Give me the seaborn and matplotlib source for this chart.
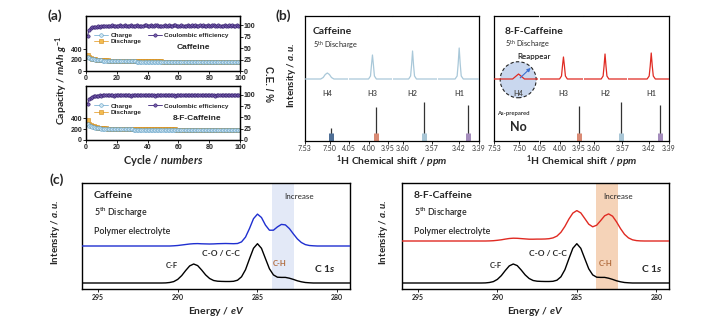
import numpy as np
import matplotlib
matplotlib.use('Agg')
import matplotlib.pyplot as plt
import seaborn as sns
from matplotlib.lines import Line2D
from matplotlib.patches import Ellipse

sns.set_theme(style='ticks')
plt.rcParams['font.family'] = ['Lato', 'DejaVu Sans']
plt.rcParams['mathtext.fontset'] = 'custom'
plt.rcParams['mathtext.rm'] = 'Lato:bold'
plt.rcParams['mathtext.it'] = 'Lato:italic:bold'
plt.rcParams['mathtext.bf'] = 'Lato:bold'

# ---------------- (a) cycling data ----------------
cycles = list(range(1, 101))
caf_charge = [246, 232, 223, 216, 210, 205, 201, 198, 195, 192,
              190, 188, 186, 185, 184, 183, 182, 181, 180, 179,
              179, 178, 178, 177, 176, 176, 175, 175, 174, 174,
              173, 173, 172, 172, 172, 171, 171, 170, 170, 170,
              169, 169, 169, 168, 168, 168, 167, 167, 167, 166,
              166, 166, 166, 165, 165, 165, 165, 164, 164, 164,
              164, 163, 163, 163, 163, 162, 162, 162, 162, 162,
              161, 161, 161, 161, 161, 160, 160, 160, 160, 160,
              160, 159, 159, 159, 159, 159, 158, 158, 158, 158,
              158, 158, 157, 157, 157, 157, 157, 157, 156, 156]
caf_discharge = [288, 252, 236, 226, 219, 213, 208, 204, 201, 198,
                 196, 194, 192, 191, 190, 189, 188, 187, 186, 185,
                 185, 184, 184, 183, 182, 182, 181, 181, 180, 180,
                 179, 179, 178, 178, 178, 177, 177, 176, 176, 176,
                 175, 175, 175, 174, 174, 174, 173, 173, 173, 172,
                 172, 172, 172, 171, 171, 171, 171, 170, 170, 170,
                 170, 169, 169, 169, 169, 168, 168, 168, 168, 168,
                 167, 167, 167, 167, 167, 166, 166, 166, 166, 166,
                 166, 165, 165, 165, 165, 165, 164, 164, 164, 164,
                 164, 164, 163, 163, 163, 163, 163, 163, 162, 162]
caf_ce = [76, 90, 94, 95, 96, 97, 97, 98, 97, 98,
          99, 98, 99, 99, 98, 99, 100, 99, 99, 98,
          99, 100, 99, 99, 100, 99, 98, 99, 100, 99,
          99, 99, 100, 99, 99, 98, 99, 100, 100, 99,
          99, 100, 99, 99, 100, 100, 99, 99, 98, 99,
          100, 99, 99, 100, 99, 99, 100, 100, 99, 99,
          99, 100, 99, 98, 99, 100, 99, 99, 100, 99,
          100, 99, 99, 100, 99, 100, 99, 99, 100, 99,
          99, 100, 100, 99, 99, 100, 99, 98, 99, 100,
          99, 99, 100, 99, 100, 99, 99, 100, 99, 99]
fcaf_charge = [296, 268, 254, 244, 236, 229, 224, 219, 215, 212,
               210, 208, 206, 205, 204, 203, 202, 201, 200, 199,
               199, 198, 198, 197, 197, 196, 196, 195, 195, 195,
               194, 194, 194, 193, 193, 193, 192, 192, 192, 192,
               191, 191, 191, 191, 190, 190, 190, 190, 189, 189,
               189, 189, 189, 188, 188, 188, 188, 188, 187, 187,
               187, 187, 187, 186, 186, 186, 186, 186, 186, 185,
               185, 185, 185, 185, 185, 184, 184, 184, 184, 184,
               184, 184, 183, 183, 183, 183, 183, 183, 183, 182,
               182, 182, 182, 182, 182, 182, 181, 181, 181, 181]
fcaf_discharge = [372, 302, 276, 261, 250, 242, 236, 230, 225, 221,
                  218, 216, 214, 212, 211, 210, 209, 208, 207, 206,
                  206, 205, 205, 204, 204, 203, 203, 202, 202, 202,
                  201, 201, 201, 200, 200, 200, 199, 199, 199, 199,
                  198, 198, 198, 198, 197, 197, 197, 197, 196, 196,
                  196, 196, 196, 195, 195, 195, 195, 195, 194, 194,
                  194, 194, 194, 193, 193, 193, 193, 193, 193, 192,
                  192, 192, 192, 192, 192, 191, 191, 191, 191, 191,
                  191, 191, 190, 190, 190, 190, 190, 190, 190, 189,
                  189, 189, 189, 189, 189, 189, 188, 188, 188, 188]
fcaf_ce = [80, 91, 94, 96, 97, 97, 98, 98, 99, 98,
           99, 99, 100, 99, 99, 100, 99, 98, 99, 100,
           100, 99, 99, 100, 99, 99, 100, 99, 98, 99,
           100, 99, 100, 99, 99, 100, 99, 99, 100, 100,
           99, 99, 100, 99, 98, 99, 100, 99, 99, 100,
           99, 100, 99, 99, 100, 99, 99, 98, 99, 100,
           100, 99, 99, 100, 99, 100, 99, 99, 100, 99,
           99, 100, 99, 99, 100, 99, 100, 99, 99, 100,
           100, 99, 99, 98, 99, 100, 99, 100, 99, 99,
           99, 100, 99, 100, 99, 99, 100, 99, 99, 100]
cap_ticks = [0, 200, 400]
ce_ticks = [0, 25, 50, 75, 100]
cycle_ticks = [0, 20, 40, 60, 80, 100]

# ---------------- (b) 1H NMR data ----------------
seg_limits = [(7.53, 7.478), (4.05, 3.94), (3.61, 3.565), (3.45, 3.39)]
seg_ticks = [[7.53, 7.50], [4.05, 4.00, 3.95], [3.60, 3.57], [3.42, 3.39]]
peak_names = ['H4', 'H3', 'H2', 'H1']

caf_seg1_x = [7.530, 7.511, 7.508, 7.5055, 7.503, 7.5005, 7.498, 7.495, 7.478]
caf_seg1_y = [62, 62, 63.5, 66.5, 68, 66.5, 63.5, 62, 62]
caf_seg2_x = [4.050, 4.000, 3.995, 3.9925, 3.990, 3.9875, 3.985, 3.980, 3.940]
caf_seg2_y = [62, 62, 65, 76, 86, 76, 65, 62, 62]
caf_seg3_x = [3.610, 3.594, 3.592, 3.591, 3.590, 3.589, 3.588, 3.586, 3.565]
caf_seg3_y = [62, 62, 65, 76, 90, 76, 65, 62, 62]
caf_seg4_x = [3.450, 3.425, 3.422, 3.4205, 3.419, 3.4175, 3.416, 3.413, 3.390]
caf_seg4_y = [62, 62, 65, 77, 93, 77, 65, 62, 62]

fcaf_seg1_x = [7.530, 7.508, 7.501, 7.494, 7.478]
fcaf_seg1_y = [62, 62, 67, 62, 62]
fcaf_seg2_x = [4.050, 4.000, 3.995, 3.9925, 3.990, 3.9875, 3.985, 3.980, 3.940]
fcaf_seg2_y = [62, 62, 65, 75, 84, 75, 65, 62, 62]
fcaf_seg3_x = [3.610, 3.592, 3.590, 3.589, 3.588, 3.587, 3.586, 3.584, 3.565]
fcaf_seg3_y = [62, 62, 65, 75, 87, 75, 65, 62, 62]
fcaf_seg4_x = [3.450, 3.422, 3.419, 3.4175, 3.416, 3.4145, 3.413, 3.410, 3.390]
fcaf_seg4_y = [62, 62, 65, 75, 88, 75, 65, 62, 62]

caf_peak_pos = [7.503, 3.990, 3.590, 3.419]
fcaf_peak_pos = [7.501, 3.990, 3.588, 3.416]
caf_stick_pos = [7.499, 3.980, 3.578, 3.406]
caf_stick_h = [13, 34, 39, 36]
fcaf_stick_pos = [None, 3.950, 3.571, 3.403]
fcaf_stick_h = [0, 35, 39, 36]
stick_colors = ['#4f6f96', '#d98a74', '#a9c6d6', '#a48cbc']

# ---------------- (c) XPS C 1s data ----------------
energy = np.linspace(296.0, 279.0, 69)
xps_reference = [6.0] * 21 + [6.1, 6.5, 7.4, 9.6, 13.4, 18.5, 23.1, 25.0, 23.4, 19.0,
                              14.1, 10.5, 8.5, 7.8, 7.6, 7.5, 7.5, 7.7, 8.8, 12.2,
                              19.3, 30.2, 40.7, 45.3, 40.7, 30.4, 20.2, 14.1, 11.8, 11.6,
                              11.6, 10.8, 9.6, 8.2, 7.2, 6.5, 6.2, 6.0] + [6.0] * 10
xps_caf_discharge = [43.0] * 23 + [43.2, 43.5, 44.0, 44.5, 45.0, 45.3, 45.4, 45.2, 45.1, 45.0,
                                   45.1, 45.3, 45.4, 45.5, 45.4, 45.3, 45.5, 47.1, 51.9, 60.5,
                                   70.3, 74.9, 71.5, 63.9, 58.8, 58.8, 62.1, 64.6, 64.1, 60.4,
                                   55.1, 50.1, 46.5, 44.4, 43.5, 43.2] + [43.0] * 10
xps_fcaf_discharge = [48.0] * 22 + [48.1, 48.3, 48.7, 49.2, 49.9, 50.5, 50.8, 50.7, 50.4, 50.1,
                                    49.8, 49.8, 49.9, 49.9, 50.0, 50.3, 51.1, 52.9, 56.7, 62.6,
                                    69.9, 75.9, 78.4, 76.1, 70.5, 64.8, 62.2, 63.8, 68.4, 73.2,
                                    75.1, 72.8, 67.1, 60.4, 54.7, 51.1, 49.2, 48.4, 48.1] + [48.0] * 8
xps_ticks = [295, 290, 285, 280]
caf_band = (284.1, 282.7)
fcaf_band = (283.8, 282.4)

# ---------------- figure ----------------
W, H = 704, 328
fig = plt.figure(figsize=(W / 100, H / 100), dpi=100)
ARIAL = 'Liberation Sans'


def rect(l, t, r, b):
    return [l / W, 1 - b / H, (r - l) / W, (b - t) / H]


def ftxt(x, y, s, **kw):
    kw.setdefault('ha', 'center')
    kw.setdefault('va', 'center')
    fig.text(x / W, 1 - y / H, s, **kw)


def spines(ax, lw=0.9):
    for sp in ax.spines.values():
        sp.set_linewidth(lw)
        sp.set_color('black')


# ---------- (a) ----------
CH_KW = dict(color='#7fb3d5', lw=0.6, marker='o', markersize=2.6,
             markerfacecolor='#cfe6f2', markeredgecolor='#5f9fc5', markeredgewidth=0.4)
DC_KW = dict(color='#e8a53a', lw=0.6, marker='s', markersize=2.2,
             markerfacecolor='#f4bc4f', markeredgecolor='#cf8a1e', markeredgewidth=0.4)
CE_KW = dict(color='#3a1f78', lw=0.6, marker='o', markersize=2.4,
             markerfacecolor='#7a62b0', markeredgecolor='#2c1566', markeredgewidth=0.4)


def cycle_panel(box, charge, discharge, ce, name, name_xy, leg_y):
    ax = fig.add_axes(rect(*box))
    ax2 = ax.twinx()
    sns.lineplot(x=cycles, y=discharge, ax=ax, **DC_KW)
    sns.lineplot(x=cycles, y=charge, ax=ax, **CH_KW)
    sns.lineplot(x=cycles, y=ce, ax=ax2, **CE_KW)
    ax.set_xlim(0, 100)
    ax.set_ylim(0, 1000)
    ax2.set_ylim(0, 120)
    tkw = dict(fontfamily=ARIAL, fontweight='bold', fontsize=5)
    ax.set_xticks(cycle_ticks)
    ax.set_xticklabels([str(t) for t in cycle_ticks], **tkw)
    ax.set_yticks(cap_ticks)
    ax.set_yticklabels([str(t) for t in cap_ticks], **tkw)
    ax2.set_yticks(ce_ticks)
    ax2.set_yticklabels([str(t) for t in ce_ticks], **tkw)
    for a in (ax, ax2):
        a.set_xlabel('')
        a.set_ylabel('')
        a.tick_params(length=2, width=0.7, pad=0.8)
    spines(ax)
    spines(ax2)
    handles = [Line2D([], [], **CH_KW), Line2D([], [], **DC_KW), Line2D([], [], **CE_KW)]
    ax2.legend(handles, ['Charge', 'Discharge', 'Coulombic efficiency'], ncol=2,
               loc='upper left', bbox_to_anchor=(0.03, leg_y), frameon=False,
               prop=dict(family=ARIAL, weight='bold', size=4.6), handlelength=2.2,
               columnspacing=1.0, labelspacing=0.1, handletextpad=0.4, borderpad=0)
    ax2.text(name_xy[0], name_xy[1], name, transform=ax2.transAxes, ha='center', va='center',
             fontfamily=ARIAL, fontweight='bold', fontsize=6)
    return ax


cycle_panel((86, 16, 240, 71), caf_charge, caf_discharge, caf_ce, 'Caffeine', (0.70, 0.43), 0.76)
cycle_panel((86, 86, 240, 140), fcaf_charge, fcaf_discharge, fcaf_ce, '8-F-Caffeine', (0.72, 0.39), 0.74)

ftxt(55, 16, '(a)', fontsize=10, fontweight='bold')
ftxt(62, 80, 'Capacity / $\\mathit{mAh\\ g^{-1}}$', rotation=90, fontsize=7.5, fontweight='bold')
ftxt(268, 84, 'C.E. / %', rotation=270, fontsize=7, fontweight='bold', fontfamily=ARIAL)
ftxt(163, 160, 'Cycle / $\\mathit{numbers}$', fontsize=8, fontweight='bold')

# ---------- (b) ----------
caf_spec = [(caf_seg1_x, caf_seg1_y), (caf_seg2_x, caf_seg2_y),
            (caf_seg3_x, caf_seg3_y), (caf_seg4_x, caf_seg4_y)]
fcaf_spec = [(fcaf_seg1_x, fcaf_seg1_y), (fcaf_seg2_x, fcaf_seg2_y),
             (fcaf_seg3_x, fcaf_seg3_y), (fcaf_seg4_x, fcaf_seg4_y)]


def nmr_panel(edges, spec, line_color, peak_pos, stick_pos, stick_h):
    axes = []
    for k, (l, r) in enumerate(edges):
        ax = fig.add_axes(rect(l, 16, r, 141))
        sx, sy = spec[k]
        sns.lineplot(x=sx, y=sy, ax=ax, color=line_color, lw=0.9, sort=False,
                     estimator=None, zorder=3)
        if stick_pos[k] is not None:
            ax.vlines(stick_pos[k], 0, stick_h[k], color='#333333', lw=0.9, zorder=2)
            ax.vlines(stick_pos[k], 0, 8, color=stick_colors[k], lw=3.6, zorder=2)
        ax.text(peak_pos[k], 48, peak_names[k], ha='center', va='center', fontsize=5.3,
                fontweight='bold', color='#555555', zorder=4)
        ax.set_xlim(*seg_limits[k])
        ax.set_ylim(0, 125)
        ax.set_xticks(seg_ticks[k])
        ax.set_xticklabels(['%.2f' % t for t in seg_ticks[k]], fontsize=5, color='#333333')
        ax.set_yticks([])
        ax.set_xlabel('')
        ax.set_ylabel('')
        ax.tick_params(axis='x', length=2, width=0.7, pad=1)
        spines(ax)
        ax.spines['left'].set_visible(k == 0)
        ax.spines['right'].set_visible(k == len(edges) - 1)
        axes.append(ax)
    return axes


caf_axes = nmr_panel([(305, 348), (349, 392), (393, 437), (438, 479)], caf_spec, '#a9c8d9',
                     caf_peak_pos, caf_stick_pos, caf_stick_h)
fcaf_axes = nmr_panel([(494, 538), (540, 583), (584, 627), (628, 669)], fcaf_spec, '#e02a22',
                      fcaf_peak_pos, fcaf_stick_pos, fcaf_stick_h)

# reappear circle
a1 = fcaf_axes[0]
a1.add_patch(Ellipse((0.55, 0.49), 36 / 44, 36 / 125, transform=a1.transAxes,
                     facecolor='#c9d7ee', edgecolor='#222222', ls=(0, (3, 2)), lw=0.8,
                     clip_on=False, zorder=1))
a1.annotate('', xy=(0.88, 0.60), xytext=(0.55, 0.49), xycoords='axes fraction',
            textcoords='axes fraction', annotation_clip=False,
            arrowprops=dict(arrowstyle='-|>', color='#3b6fd0', lw=0.8, mutation_scale=5),
            zorder=5)

ftxt(283, 16, '(b)', fontsize=10, fontweight='bold')
ftxt(292, 75, 'Intensity / $\\mathit{a.u.}$', rotation=90, fontsize=7, fontweight='bold')
ftxt(313, 32, 'Caffeine', ha='left', fontsize=7.5, fontweight='bold')
ftxt(313, 45, '5$^{\\mathregular{th}}$ Discharge', ha='left', fontsize=5.3)
ftxt(505, 32, '8-F-Caffeine', ha='left', fontsize=7.5, fontweight='bold')
ftxt(505, 44, '5$^{\\mathregular{th}}$ Discharge', ha='left', fontsize=5.3)
ftxt(534, 57, 'Reappear', fontsize=5.8, fontweight='semibold')
ftxt(497, 113, 'As-prepared', ha='left', fontsize=4.2, fontweight='semibold')
ftxt(510, 127, 'No', ha='left', fontsize=9, fontweight='bold')
ftxt(392, 162, '$^1$H Chemical shift / $\\mathit{ppm}$', fontsize=7.5, fontweight='bold')
ftxt(582, 162, '$^1$H Chemical shift / $\\mathit{ppm}$', fontsize=7.5, fontweight='bold')


# ---------- (c) ----------
def xps_panel(box, top_curve, top_color, band, band_color, name, lab_pos):
    ax = fig.add_axes(rect(*box))
    ax.axvspan(band[0], band[1], color=band_color, lw=0, zorder=0)
    sns.lineplot(x=energy, y=top_curve, ax=ax, color=top_color, lw=1.0, zorder=3)
    sns.lineplot(x=energy, y=xps_reference, ax=ax, color='black', lw=1.0, zorder=3)
    ax.set_xlim(296.0, 279.2)
    ax.set_ylim(0, 106)
    ax.set_xticks(xps_ticks)
    ax.set_xticklabels([str(t) for t in xps_ticks], fontsize=5, fontweight='bold')
    ax.set_yticks([])
    ax.set_xlabel('')
    ax.set_ylabel('')
    ax.tick_params(axis='x', length=2, width=0.7, pad=1.5)
    spines(ax, 1.0)
    ax.text(0.045, 0.885, name, transform=ax.transAxes, ha='left', va='center',
            fontsize=7.5, fontweight='bold')
    ax.text(0.045, 0.717, '5$^{\\mathregular{th}}$ Discharge', transform=ax.transAxes,
            ha='left', va='center', fontsize=6.3, fontweight='semibold')
    ax.text(0.045, 0.538, 'Polymer electrolyte', transform=ax.transAxes, ha='left',
            va='center', fontsize=6.3, fontweight='semibold')
    ax.text(0.81, 0.868, 'Increase', transform=ax.transAxes, ha='center', va='center',
            fontsize=5.8)
    ax.text(lab_pos[0], 24, 'C-F', ha='center', va='center', fontsize=5.5, fontweight='bold')
    ax.text(lab_pos[1], 35, 'C-O / C-C', ha='center', va='center', fontsize=6, fontweight='bold')
    ax.text(lab_pos[2], 26, 'C-H', ha='center', va='center', fontsize=5.5, fontweight='bold',
            color='#b06a3b')
    ax.text(lab_pos[3], 21, 'C 1$\\mathit{s}$', ha='center', va='center', fontsize=7.5,
            fontweight='bold')
    return ax


xps_panel((82, 183, 350, 289), xps_caf_discharge, '#1f2fd0', caf_band, '#e3e9f7', 'Caffeine',
          (290.4, 287.3, 283.6, 280.8))
xps_panel((402, 183, 669, 289), xps_fcaf_discharge, '#e02a22', fcaf_band, '#f5d3b8',
          '8-F-Caffeine', (290.1, 286.8, 283.2, 280.3))

ftxt(57, 180, '(c)', fontsize=10, fontweight='bold')
ftxt(55, 232, 'Intensity / $\\mathit{a.u.}$', rotation=90, fontsize=7, fontweight='bold')
ftxt(383, 232, 'Intensity / $\\mathit{a.u.}$', rotation=90, fontsize=7, fontweight='bold')
ftxt(216, 311, 'Energy / $\\mathit{eV}$', fontsize=7.5, fontweight='bold')
ftxt(535, 311, 'Energy / $\\mathit{eV}$', fontsize=7.5, fontweight='bold')

fig.savefig('out.png', dpi=100)
